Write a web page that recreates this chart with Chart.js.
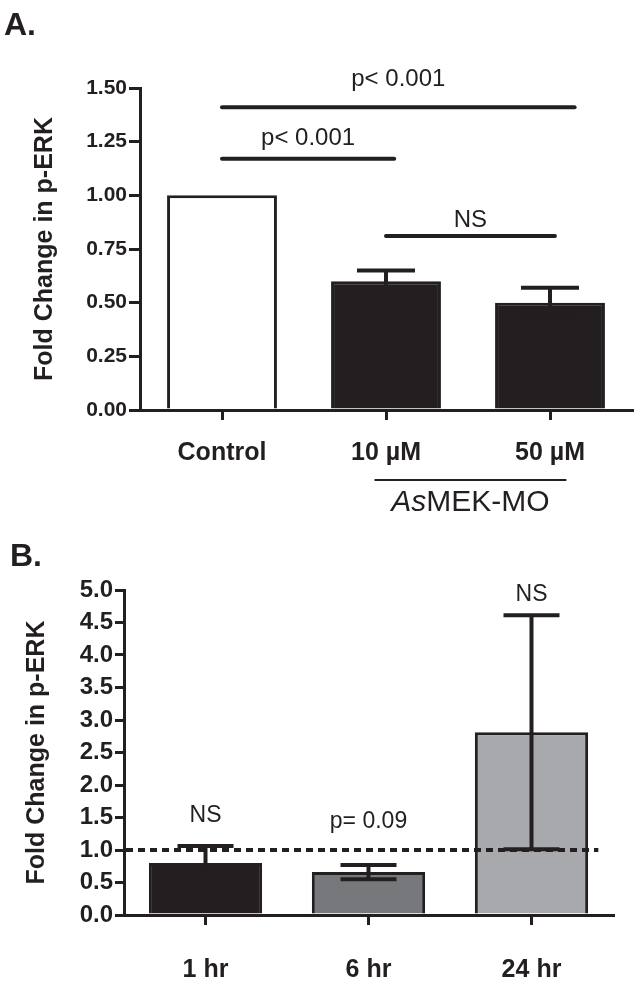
<!DOCTYPE html>
<html><head><meta charset="utf-8">
<script src="https://cdn.jsdelivr.net/npm/chart.js@4.4.0/dist/chart.umd.min.js"></script>
<style>
html,body{margin:0;padding:0;background:#fff;}
#wrap{position:relative;width:638px;height:984px;overflow:hidden;}
canvas{position:absolute;left:0;}
</style></head><body>
<div id="wrap">
<canvas id="cA" width="638" height="530" style="top:0"></canvas>
<canvas id="cB" width="638" height="454" style="top:530px"></canvas>
</div>
<script>
// ---------- Panel A data ----------
const categoriesA = ['Control', '10 µM', '50 µM'];
const valuesA = [1.00, 0.60, 0.50];
const errorsA = [0, 0.05, 0.07];
const yTicksA = ['0.00', '0.25', '0.50', '0.75', '1.00', '1.25', '1.50'];
const sigLabelsA = ['p< 0.001', 'p< 0.001', 'NS'];
const sigFromA = [0, 0, 1];
const sigToA = [2.15, 1.05, 2.03];
const sigLevelA = [1.41, 1.17, 0.81];
const groupLabelA = ['As', 'MEK-MO'];

// ---------- Panel B data ----------
const categoriesB = ['1 hr', '6 hr', '24 hr'];
const valuesB = [0.80, 0.66, 2.81];
const errorsB = [0.26, 0.11, 1.80];
const yTicksB = ['0.0', '0.5', '1.0', '1.5', '2.0', '2.5', '3.0', '3.5', '4.0', '4.5', '5.0'];
const sigLabelsB = ['NS', 'p= 0.09', 'NS'];
const referenceB = 1.0;

const ink = '#231f20';
const FONT = '"Liberation Sans", Arial, Helvetica, sans-serif';
Chart.defaults.font.family = FONT;
Chart.defaults.color = ink;

function errorBarsPlugin(errs, capW) {
  return {
    id: 'errbars',
    afterDatasetsDraw(chart) {
      const ctx = chart.ctx, y = chart.scales.y;
      const meta = chart.getDatasetMeta(0);
      const vals = chart.data.datasets[0].data;
      ctx.save();
      ctx.strokeStyle = ink; ctx.lineWidth = 4; ctx.lineCap = 'butt';
      meta.data.forEach((el, i) => {
        const e = errs[i];
        if (!e) return;
        const yt = y.getPixelForValue(vals[i] + e), yb = y.getPixelForValue(vals[i] - e);
        ctx.beginPath(); ctx.moveTo(el.x, yt); ctx.lineTo(el.x, yb); ctx.stroke();
        ctx.beginPath();
        ctx.moveTo(el.x - capW / 2, yt); ctx.lineTo(el.x + capW / 2, yt);
        ctx.moveTo(el.x - capW / 2, yb); ctx.lineTo(el.x + capW / 2, yb);
        ctx.stroke();
      });
      ctx.restore();
    }
  };
}

function panelLabel(text, x, yb) {
  return {
    id: 'panelLabel',
    afterDraw(chart) {
      const ctx = chart.ctx;
      ctx.save();
      ctx.font = 'bold 32px ' + FONT;
      ctx.fillStyle = ink; ctx.textAlign = 'left'; ctx.textBaseline = 'alphabetic';
      ctx.fillText(text, x, yb);
      ctx.restore();
    }
  };
}

const bracketsA = {
  id: 'bracketsA',
  afterDraw(chart) {
    const ctx = chart.ctx, xs = chart.scales.x, ys = chart.scales.y;
    const labelOffsets = [21, 14, 9];
    ctx.save();
    ctx.strokeStyle = ink; ctx.fillStyle = ink; ctx.lineWidth = 4; ctx.lineCap = 'round';
    ctx.font = '24px ' + FONT; ctx.textAlign = 'center'; ctx.textBaseline = 'alphabetic';
    sigLabelsA.forEach((lab, i) => {
      const x1 = xs.getPixelForValue(sigFromA[i]), x2 = xs.getPixelForValue(sigToA[i]);
      const yy = ys.getPixelForValue(sigLevelA[i]);
      ctx.beginPath(); ctx.moveTo(x1, yy); ctx.lineTo(x2, yy); ctx.stroke();
      ctx.fillText(lab, (x1 + x2) / 2, yy - labelOffsets[i]);
    });
    // group underline + label under the two treatment bars
    const ca = chart.chartArea;
    const u1 = xs.getPixelForValue(0.93), u2 = xs.getPixelForValue(2.10);
    const uy = ca.bottom + 70;
    ctx.lineWidth = 2; ctx.lineCap = 'butt';
    ctx.beginPath(); ctx.moveTo(u1, uy); ctx.lineTo(u2, uy); ctx.stroke();
    const fItal = 'italic 30px ' + FONT, fReg = '30px ' + FONT;
    ctx.font = fItal; const w1 = ctx.measureText(groupLabelA[0]).width;
    ctx.font = fReg; const w2 = ctx.measureText(groupLabelA[1]).width;
    let sx = (u1 + u2) / 2 - (w1 + w2) / 2;
    ctx.textAlign = 'left';
    ctx.font = fItal; ctx.fillText(groupLabelA[0], sx, ca.bottom + 101);
    ctx.font = fReg; ctx.fillText(groupLabelA[1], sx + w1, ca.bottom + 101);
    ctx.restore();
  }
};

const refAndLabelsB = {
  id: 'refB',
  afterDatasetsDraw(chart) {
    const ctx = chart.ctx, xs = chart.scales.x, ys = chart.scales.y, ca = chart.chartArea;
    const yy = ys.getPixelForValue(referenceB);
    ctx.save();
    ctx.strokeStyle = ink; ctx.lineWidth = 4; ctx.setLineDash([7, 5]);
    ctx.beginPath(); ctx.moveTo(ca.left + 2, yy); ctx.lineTo(xs.getPixelForValue(2.41), yy); ctx.stroke();
    ctx.restore();
  },
  afterDraw(chart) {
    const ctx = chart.ctx, xs = chart.scales.x, ys = chart.scales.y;
    const labelLevels = [1.43, 1.34, 4.83];
    ctx.save();
    ctx.fillStyle = ink; ctx.font = '23px ' + FONT; ctx.textAlign = 'center'; ctx.textBaseline = 'alphabetic';
    sigLabelsB.forEach((lab, i) => {
      ctx.fillText(lab, xs.getPixelForValue(i), ys.getPixelForValue(labelLevels[i]));
    });
    ctx.restore();
  }
};

function axisOpts(o) {
  return {
    x: {
      offset: true,
      grid: { display: true, offset: false, drawOnChartArea: false, drawTicks: true, tickLength: 10, lineWidth: 3, color: ink },
      border: { display: true, width: 3, color: ink },
      ticks: { font: { size: 25, weight: 'bold' }, color: ink, padding: o.xPad, maxRotation: 0 },
      afterFit: s => { s.height = o.xH; }
    },
    y: {
      min: 0, max: o.max,
      ticks: { stepSize: o.step, font: { size: o.tickSize, weight: 'bold' }, color: ink, padding: 2,
               callback: (v, i) => o.tickLabels[i] },
      grid: { drawOnChartArea: false, drawTicks: true, tickLength: o.yTick, lineWidth: 3, color: ink },
      border: { display: true, width: 3, color: ink },
      title: { display: true, text: 'Fold Change in p-ERK', color: ink, font: { size: 25, weight: 'bold' }, padding: { top: o.titlePad, bottom: 0 } },
      afterFit: s => { s.width = o.yW; }
    }
  };
}

new Chart(document.getElementById('cA'), {
  type: 'bar',
  data: { labels: categoriesA, datasets: [{ data: valuesA, backgroundColor: ['#ffffff', ink, ink], borderColor: ink, borderWidth: 3, barPercentage: 0.67, categoryPercentage: 1 }] },
  options: {
    responsive: false, animation: false, devicePixelRatio: 1,
    layout: { padding: { top: 88, right: 6, left: 0, bottom: 0 } },
    plugins: { legend: { display: false }, tooltip: { enabled: false } },
    scales: axisOpts({ xPad: 18, xH: 120, max: 1.5, step: 0.25, tickSize: 21, tickLabels: yTicksA, yTick: 11, titlePad: 30, yW: 140 })
  },
  plugins: [errorBarsPlugin(errorsA, 58), bracketsA, panelLabel('A.', 4, 35)]
});

new Chart(document.getElementById('cB'), {
  type: 'bar',
  data: { labels: categoriesB, datasets: [{ data: valuesB, backgroundColor: [ink, '#77787b', '#a7a9ac'], borderColor: ink, borderWidth: 3, barPercentage: 0.695, categoryPercentage: 1 }] },
  options: {
    responsive: false, animation: false, devicePixelRatio: 1,
    layout: { padding: { top: 60, right: 25, left: 0, bottom: 0 } },
    plugins: { legend: { display: false }, tooltip: { enabled: false } },
    scales: axisOpts({ xPad: 30, xH: 69, max: 5, step: 0.5, tickSize: 24, tickLabels: yTicksB, yTick: 9, titlePad: 22, yW: 124 })
  },
  plugins: [errorBarsPlugin(errorsB, 56), refAndLabelsB, panelLabel('B.', 10, 36)]
});
</script>
</body></html>
